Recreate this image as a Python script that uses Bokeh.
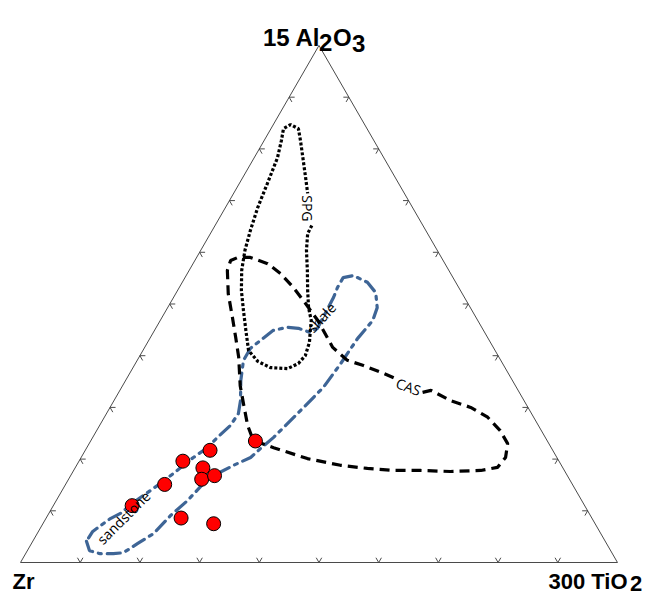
import numpy as np
from bokeh.plotting import figure
from bokeh.embed import file_html
from bokeh.resources import INLINE
from bokeh.core.properties import value

# ---- data: ternary compositions in % (15*Al2O3, 300*TiO2; Zr = 100 - both) ----
sample_al = [11.0, 15.1, 19.6, 21.7, 18.3, 16.1, 16.8, 8.6, 7.5, 23.5]
sample_ti = [13.2, 16.6, 17.4, 20.9, 21.4, 22.3, 24.1, 22.6, 28.6, 27.6]

spg_al = [65.2, 63.6, 60.4, 56.5, 52.6, 49.3, 46.8, 44.9, 42.6, 40.0, 38.5, 37.5, 37.7, 38.9, 41.0, 44.9,
          48.7, 52.6, 56.5, 60.4, 64.2, 68.7, 73.3, 78.3, 81.6, 83.9, 84.7, 83.9, 81.6, 78.7, 74.5, 71.4]
spg_ti = [16.2, 16.3, 17.7, 19.8, 21.8, 23.6, 25.3, 26.1, 27.1, 27.7, 27.3, 26.0, 23.0, 20.3, 17.7, 15.3,
          13.0, 10.7, 8.8, 7.4, 6.4, 5.4, 4.7, 3.9, 2.9, 2.1, 2.9, 4.6, 6.1, 7.9, 10.5, 12.4]

cas_al = [32.9, 33.3, 31.3, 30.0, 28.1, 25.5, 23.0, 20.3, 18.4, 17.8, 17.6, 17.8, 17.8, 18.2, 18.8, 20.1,
          22.2, 23.6, 26.5, 30.4, 34.2, 39.7, 43.5, 47.4, 52.0, 56.5, 58.4, 59.0, 59.0, 57.8, 55.9, 53.2,
          50.1, 46.8, 41.6, 39.1, 38.1, 36.6, 35.6]
cas_ti = [50.9, 52.1, 56.4, 60.4, 64.2, 67.6, 70.1, 71.1, 70.7, 68.2, 63.2, 58.1, 53.6, 49.0, 44.2, 38.0,
          31.3, 27.2, 24.8, 22.2, 19.7, 16.7, 14.3, 11.8, 8.8, 6.4, 6.0, 6.9, 9.0, 12.5, 15.6, 19.1,
          22.7, 26.4, 31.5, 35.2, 38.4, 42.5, 45.0]

sh_al = [4.1, 2.3, 1.7, 1.7, 1.9, 3.7, 5.6, 9.1, 12.0, 15.3, 17.2, 18.8, 20.3, 22.1, 24.2, 28.8, 33.9,
         38.5, 43.3, 46.8, 49.3, 52.2, 54.2, 55.5, 55.1, 53.2, 51.3, 45.3, 44.5, 45.3, 45.5, 44.9, 42.9,
         41.4, 39.1, 35.2, 31.3, 28.8, 26.5, 24.2, 22.2, 20.3, 18.8, 17.2, 15.3, 13.5, 11.6, 9.5, 8.5,
         7.5, 6.0, 4.1]
sh_ti = [9.0, 10.4, 12.5, 14.7, 16.3, 17.8, 19.5, 20.6, 22.0, 23.0, 24.4, 26.3, 28.4, 29.2, 30.3, 32.0,
         33.8, 34.4, 34.8, 35.6, 35.1, 33.4, 31.0, 28.0, 26.5, 26.5, 26.8, 27.1, 26.3, 23.9, 22.0, 19.9,
         18.7, 17.8, 17.8, 19.3, 21.2, 22.1, 21.9, 20.9, 20.2, 18.8, 17.9, 17.0, 15.8, 14.5, 13.1, 12.0,
         10.8, 10.1, 9.1, 9.0]

tick_values = [10, 20, 30, 40, 50, 60, 70, 80, 90]

field_labels = ["SPG", "shale", "CAS", "sandstone"]
label_al = [68.5, 47.4, 34.0, 8.7]
label_ti = [13.8, 26.7, 48.0, 12.9]
label_angle_deg = [-90, 47, -20, 45]

SQ3 = np.sqrt(3) / 2


def tern(al, ti):
    al = np.asarray(al, dtype=float) / 100.0
    ti = np.asarray(ti, dtype=float) / 100.0
    return ti + al / 2.0, al * SQ3


p = figure(width=654, height=595, output_backend="svg", toolbar_location=None,
           x_range=(-0.033501, 1.061977), y_range=(-0.055276, 0.941374),
           min_border=0, outline_line_color=None)
p.axis.visible = False
p.grid.visible = False
p.background_fill_color = "white"

edge_col = "#4a4a4a"
# triangle
p.line([0, 1, 0.5, 0], [0, 0, SQ3, 0], line_color=edge_col, line_width=1)

# chevron ticks
L = 5.5 / 597.0
xs, ys = [], []
for v in tick_values:
    f = v / 100.0
    for (px, py, nrm) in [(f, 0.0, 90.0), (1 - f / 2, f * SQ3, 210.0), (f / 2, f * SQ3, -30.0)]:
        a1 = np.radians(nrm - 30)
        a2 = np.radians(nrm + 30)
        xs.append([px + L * np.cos(a1), px, px + L * np.cos(a2)])
        ys.append([py + L * np.sin(a1), py, py + L * np.sin(a2)])
p.multi_line(xs, ys, line_color=edge_col, line_width=1)

# fields
bx, by = tern(sh_al, sh_ti)
p.line(bx, by, line_color="#3e6596", line_width=3.2, line_dash="13 6 3 6", line_cap="round")
cx, cy = tern(cas_al, cas_ti)
p.line(cx, cy, line_color="black", line_width=3.2, line_dash="10 6")
sx, sy = tern(spg_al, spg_ti)
p.line(sx, sy, line_color="black", line_width=3.2, line_dash="3 2")

# samples
px_, py_ = tern(sample_al, sample_ti)
p.scatter(px_, py_, size=14, fill_color="#ff0000", line_color="black", line_width=1)

# field labels
lx, ly = tern(label_al, label_ti)
for i, t in enumerate(field_labels):
    p.text([lx[i]], [ly[i]], text=[t], angle=np.radians(label_angle_deg[i]),
           text_font=value("Open Sans"), text_font_size="14px", text_color="black",
           text_align="center", text_baseline="middle")

# corner labels
font = value("Liberation Sans")
def corner(x, y, txt, dx, dy, size):
    p.text([x], [y], text=[txt], x_offset=dx, y_offset=dy, text_font=font,
           text_font_size=size, text_font_style="bold", text_color="black",
           text_align="left", text_baseline="alphabetic")

corner(0.5, SQ3, "15 Al", -56, -8, "24px")
corner(0.5, SQ3, "2", 0, -3, "24px")
corner(0.5, SQ3, "O", 14, -8, "24px")
corner(0.5, SQ3, "3", 33, -2, "24px")
corner(0.0, 0.0, "Zr", -8, 19, "22px")
corner(1.0, 0.0, "300 TiO", -69, 19, "22px")
corner(1.0, 0.0, "2", 12.5, 21, "22px")

open("out.html", "w").write(file_html(p, INLINE))
